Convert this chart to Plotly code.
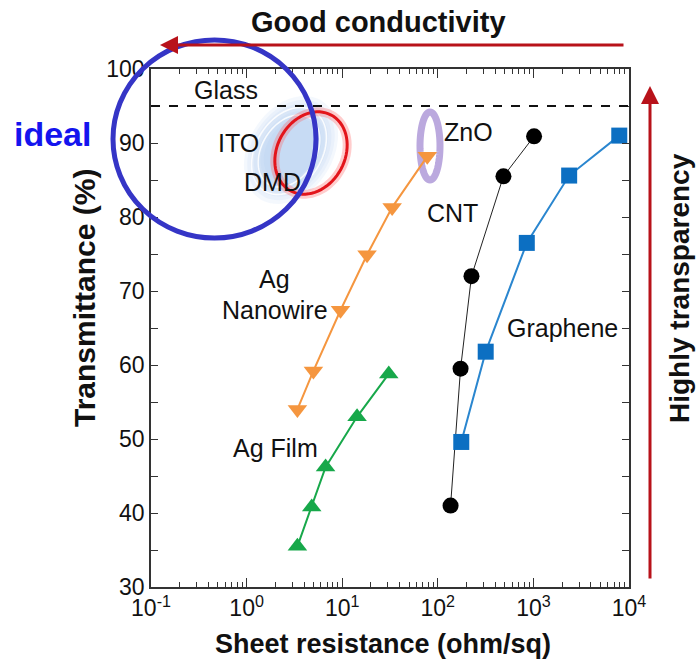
import numpy as np
import plotly.graph_objects as go

# ---------------- data ----------------
ag_film_x = [3.4, 4.8, 6.7, 14.3, 30.7]
ag_film_y = [35.5, 40.8, 46.2, 53.0, 58.8]

ag_nw_x = [3.4, 5.0, 9.6, 18.2, 33.3, 77.6]
ag_nw_y = [54.0, 59.2, 67.4, 74.9, 81.3, 88.2]

cnt_x = [136, 173, 225, 486, 1016]
cnt_y = [41.0, 59.5, 72.0, 85.5, 90.9]

graphene_x = [176, 317, 853, 2366, 7910]
graphene_y = [49.6, 61.8, 76.5, 85.6, 91.0]

glass_T = 95

x_tick_vals = [0.1, 1, 10, 100, 1000, 10000]
x_tick_text = ["10<sup>-1</sup>", "10<sup>0</sup>", "10<sup>1</sup>",
               "10<sup>2</sup>", "10<sup>3</sup>", "10<sup>4</sup>"]
y_tick_vals = [30, 40, 50, 60, 70, 80, 90, 100]

# ---------------- layout geometry ----------------
W, H = 697, 664
ML, MR, MT, MB = 151, 68, 69, 77
PW, PH = W - ML - MR, H - MT - MB
FONT = "Liberation Sans, Arial, Helvetica, sans-serif"


def px(xp):
    return (xp - ML) / PW


def py(yp):
    return (H - MB - yp) / PH


def ell_path(cx, cy, a, b, ang_deg, n=72):
    t = np.linspace(0, 2 * np.pi, n, endpoint=False)
    th = np.radians(ang_deg)
    xs = cx + a * np.cos(t) * np.cos(th) - b * np.sin(t) * np.sin(th)
    ys = cy - (a * np.cos(t) * np.sin(th) + b * np.sin(t) * np.cos(th))
    pts = [f"{px(x):.5f},{py(y):.5f}" for x, y in zip(xs, ys)]
    return "M " + " L ".join(pts) + " Z"


fig = go.Figure()

fig.add_trace(go.Scatter(x=ag_film_x, y=ag_film_y, mode="lines+markers", name="Ag Film",
                         line=dict(color="#17a84a", width=2),
                         marker=dict(symbol="triangle-up", size=17, color="#17a84a")))
fig.add_trace(go.Scatter(x=ag_nw_x, y=ag_nw_y, mode="lines+markers", name="Ag Nanowire",
                         line=dict(color="#f5963f", width=2),
                         marker=dict(symbol="triangle-down", size=17, color="#f5963f")))
fig.add_trace(go.Scatter(x=cnt_x, y=cnt_y, mode="lines+markers", name="CNT",
                         line=dict(color="#222222", width=1),
                         marker=dict(symbol="circle", size=16, color="#000000")))
fig.add_trace(go.Scatter(x=graphene_x, y=graphene_y, mode="lines+markers", name="Graphene",
                         line=dict(color="#2a86cf", width=2),
                         marker=dict(symbol="square", size=16, color="#0c6fc2")))

shapes = []
# glass dashed line
shapes.append(dict(type="line", xref="x domain", yref="y", x0=0, x1=1, y0=glass_T, y1=glass_T,
                   line=dict(color="#111111", width=2, dash="dash"), layer="above"))

# ITO blue glow
for k in range(7):
    shapes.append(dict(type="path", xref="paper", yref="paper",
                       path=ell_path(291, 150, 58 - 4 * k, 42 - 3 * k, 58),
                       fillcolor="rgba(165,200,240,0.12)", line=dict(width=0), layer="below"))
for a, b in [(47, 33), (39, 27)]:
    shapes.append(dict(type="path", xref="paper", yref="paper",
                       path=ell_path(289, 151, a, b, 58),
                       line=dict(color="rgba(255,255,255,0.85)", width=1.5), layer="below"))
# DMD red ring with glow
shapes.append(dict(type="path", xref="paper", yref="paper",
                   path=ell_path(311, 153, 43, 34, 62),
                   line=dict(color="rgba(255,90,90,0.3)", width=9), layer="below"))
shapes.append(dict(type="path", xref="paper", yref="paper",
                   path=ell_path(311, 153, 43, 34, 62),
                   line=dict(color="#e3151b", width=3), layer="below"))
# ZnO lavender ring
shapes.append(dict(type="path", xref="paper", yref="paper",
                   path=ell_path(430, 146, 34, 10, 90),
                   line=dict(color="#bba9de", width=7), layer="below"))
# "ideal" circle
shapes.append(dict(type="circle", xref="paper", yref="paper",
                   x0=px(113), x1=px(316), y0=py(238), y1=py(40),
                   line=dict(color="#3535c6", width=5), layer="above"))

annotations = []


def label(text, xp, yp, size=25, color="#111111", bold=False, angle=0, family=FONT):
    t = f"<b>{text}</b>" if bold else text
    annotations.append(dict(text=t, x=px(xp), y=py(yp), xref="paper", yref="paper",
                            showarrow=False, textangle=angle, xanchor="center", yanchor="middle",
                            font=dict(family=family, size=size, color=color)))


label("Glass", 226, 90)
label("ITO", 238, 143)
label("DMD", 272, 182)
label("ZnO", 468, 132)
label("CNT", 452, 213)
label("Ag", 274, 279)
label("Nanowire", 275, 310)
label("Ag Film", 275, 448)
label("Graphene", 562, 328)

label("Good conductivity", 378, 22, size=29, bold=True)
label("Highly transparency", 679, 288, size=28, bold=True, angle=-90)
label("ideal", 52, 134, size=34, bold=True, color="#1414ee")
label("Sheet resistance (ohm/sq)", 383, 644, size=27, bold=True)
label("Transmittance (%)", 84, 298, size=30, bold=True, angle=-90)

# arrows
annotations.append(dict(x=px(160), y=py(45), xref="paper", yref="paper", text="",
                        showarrow=True, ax=465, ay=0, axref="pixel", ayref="pixel",
                        arrowhead=2, arrowsize=1.2, arrowwidth=3, arrowcolor="#b8121a"))
annotations.append(dict(x=px(650), y=py(86), xref="paper", yref="paper", text="",
                        showarrow=True, ax=0, ay=494, axref="pixel", ayref="pixel",
                        arrowhead=2, arrowsize=1.2, arrowwidth=3, arrowcolor="#b8121a"))

minor_x = [m * 10.0 ** d for d in range(-1, 4) for m in range(2, 10)]

fig.update_layout(
    width=W, height=H,
    margin=dict(l=ML, r=MR, t=MT, b=MB),
    paper_bgcolor="white", plot_bgcolor="white",
    showlegend=False,
    font=dict(family=FONT, color="#111111"),
    shapes=shapes, annotations=annotations,
    xaxis=dict(type="log", range=[-1, 4], showgrid=False, zeroline=False,
               showline=True, linecolor="#333333", linewidth=1.5, mirror="ticks",
               ticks="inside", ticklen=9, tickwidth=1.2, tickcolor="#333333",
               tickvals=x_tick_vals, ticktext=x_tick_text,
               tickfont=dict(family=FONT, size=23, color="#111111"),
               minor=dict(tickvals=minor_x, ticks="inside", ticklen=5, tickwidth=1,
                          tickcolor="#333333", showgrid=False)),
    yaxis=dict(range=[30, 100], showgrid=False, zeroline=False,
               showline=True, linecolor="#333333", linewidth=1.5, mirror="ticks",
               ticks="inside", ticklen=7, tickwidth=1.2, tickcolor="#333333",
               tickvals=y_tick_vals,
               tickfont=dict(family=FONT, size=23, color="#111111"),
               minor=dict(dtick=5, ticks="inside", ticklen=7, tickwidth=1,
                          tickcolor="#333333", showgrid=False)),
)

fig.write_html("out.html", config={"displayModeBar": False},
               post_script="document.body.style.margin='0';")
